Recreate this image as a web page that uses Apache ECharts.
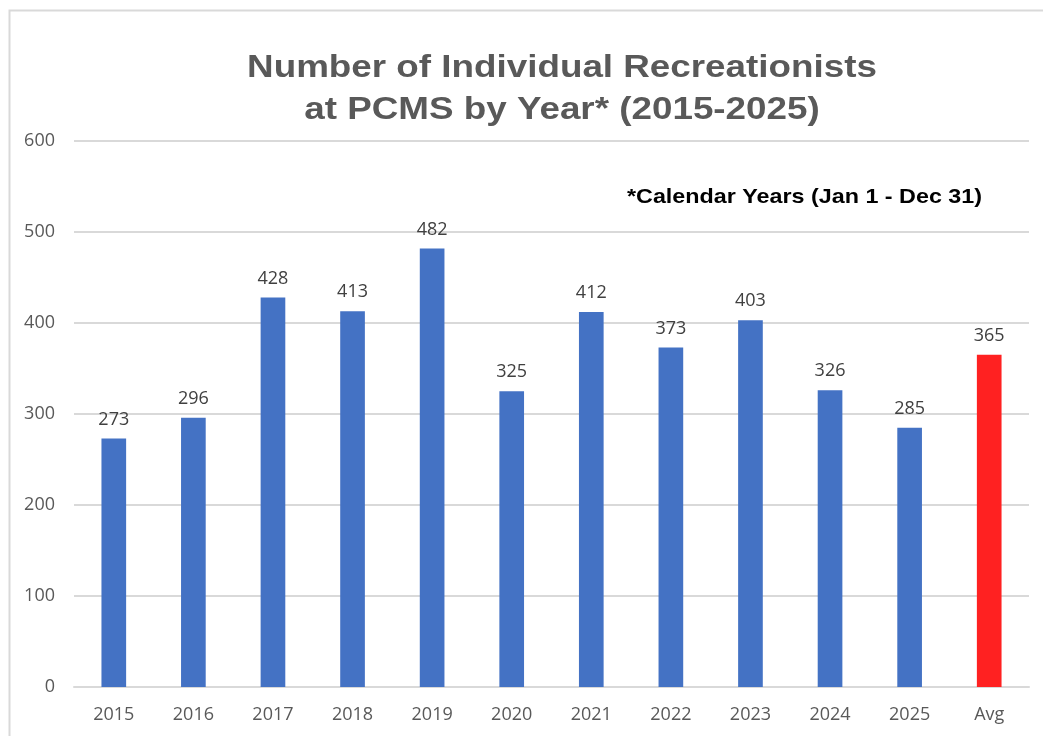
<!DOCTYPE html>
<html>
<head>
<meta charset="utf-8">
<script src="https://cdn.jsdelivr.net/npm/echarts@6/dist/echarts.min.js"></script>
<style>
html,body{margin:0;padding:0;background:#fff;}
#main{width:1043px;height:736px;}
</style>
</head>
<body>
<div id="main"></div>
<script>
const categories = ['2015','2016','2017','2018','2019','2020','2021','2022','2023','2024','2025','Avg'];
const values = [273,296,428,413,482,325,412,373,403,326,285,365];
const highlightCategory = 'Avg';
const yTicks = {min:0, max:600, interval:100};
const titleLines = ['Number of Individual Recreationists', 'at PCMS by Year* (2015-2025)'];
const noteText = '*Calendar Years (Jan 1 - Dec 31)';

const chart = echarts.init(document.getElementById('main'), null, {renderer:'canvas'});
const barData = values.map((v,i) => categories[i] === highlightCategory
  ? {value:v, itemStyle:{color:'#FF2121'}} : v);

chart.setOption({
  backgroundColor:'#fff',
  animation:false,
  graphic:[
    {type:'rect', left:7, top:8, shape:{width:1100, height:800}, style:{fill:'none', stroke:'#D9D9D9', lineWidth:2}, silent:true, z:-1},
    {type:'text', x:562, y:68, scaleX:1.15, style:{text:titleLines[0], font:'bold 32px "Liberation Sans"', fill:'#595959', align:'center', verticalAlign:'middle'}},
    {type:'text', x:562, y:110, scaleX:1.15, style:{text:titleLines[1], font:'bold 32px "Liberation Sans"', fill:'#595959', align:'center', verticalAlign:'middle'}},
    {type:'text', x:627, y:197, scaleX:1.11, style:{text:noteText, font:'bold 21px "Liberation Sans"', fill:'#000', align:'left', verticalAlign:'middle'}}
  ],
  grid:{left:74, right:14, top:141, bottom:49, containLabel:false},
  xAxis:{
    type:'category', data:categories,
    axisLine:{lineStyle:{color:'#D9D9D9', width:2}},
    axisTick:{show:false},
    axisLabel:{color:'#595959', fontFamily:'Open Sans', fontSize:18, margin:19}
  },
  yAxis:{
    type:'value', min:yTicks.min, max:yTicks.max, interval:yTicks.interval,
    axisLine:{show:false}, axisTick:{show:false},
    splitLine:{lineStyle:{color:'#D9D9D9', width:2}},
    axisLabel:{color:'#595959', fontFamily:'Open Sans', fontSize:18, margin:19}
  },
  series:[{
    type:'bar', data:barData, barWidth:'31%',
    itemStyle:{color:'#4472C4'},
    label:{show:true, position:'top', distance:10, color:'#404040', fontFamily:'Open Sans', fontSize:18}
  }]
});
</script>
</body>
</html>
